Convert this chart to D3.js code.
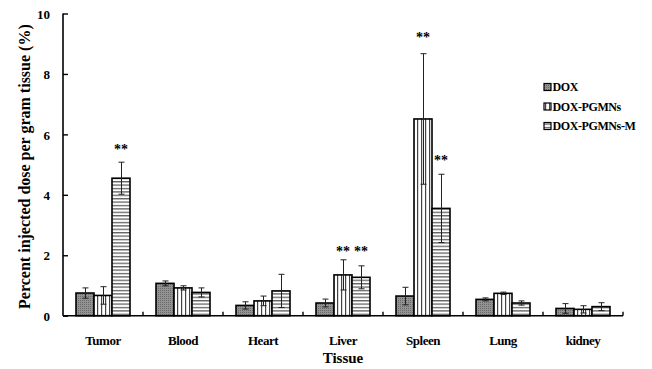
<!DOCTYPE html>
<html>
<head>
<meta charset="utf-8">
<script src="https://cdn.jsdelivr.net/npm/d3@7"></script>
<style>
  html, body { margin: 0; padding: 0; background: #fff; }
  svg { display: block; }
  text { font-family: "Liberation Serif", "Times New Roman", serif; font-weight: bold; fill: #000; }
</style>
</head>
<body>
<svg id="chart" width="652" height="369"></svg>
<script>
// Tissue distribution of DOX formulations (% injected dose per gram tissue)
const categories = ["Tumor", "Blood", "Heart", "Liver", "Spleen", "Lung", "kidney"];
const seriesNames = ["DOX", "DOX-PGMNs", "DOX-PGMNs-M"];

const doxMean       = [0.75, 1.07, 0.34, 0.42, 0.65, 0.54, 0.24];
const doxErr        = [0.17, 0.08, 0.12, 0.13, 0.29, 0.05, 0.16];
const pgmnsMean     = [0.67, 0.92, 0.49, 1.35, 6.51, 0.74, 0.21];
const pgmnsErr      = [0.29, 0.07, 0.16, 0.50, 2.16, 0.04, 0.12];
const pgmnsMMean    = [4.55, 0.77, 0.82, 1.27, 3.55, 0.42, 0.30];
const pgmnsMErr     = [0.53, 0.15, 0.55, 0.38, 1.13, 0.07, 0.13];

// "**" significance marks: category, series, height (in % ID/g units)
const sigCategory = ["Tumor", "Liver", "Liver", "Spleen", "Spleen"];
const sigSeries   = ["DOX-PGMNs-M", "DOX-PGMNs", "DOX-PGMNs-M", "DOX-PGMNs", "DOX-PGMNs-M"];
const sigLevel    = [5.62, 2.24, 2.24, 9.32, 5.25];

const yTicks = [0, 2, 4, 6, 8, 10];

const means = [doxMean, pgmnsMean, pgmnsMMean];
const errs = [doxErr, pgmnsErr, pgmnsMErr];

const rows = [];
categories.forEach((c, i) => {
  seriesNames.forEach((s, j) => {
    rows.push({ category: c, series: s, value: means[j][i], err: errs[j][i] });
  });
});

const svg = d3.select("#chart");
const defs = svg.append("defs");

// DOX: grey stippled fill
const pDox = defs.append("pattern").attr("id", "p-dox")
  .attr("patternUnits", "userSpaceOnUse").attr("width", 2).attr("height", 2);
pDox.append("rect").attr("width", 2).attr("height", 2).attr("fill", "#929292");
pDox.append("rect").attr("width", 1).attr("height", 1).attr("fill", "#6a6a6a");

// DOX-PGMNs: vertical hatching
const pV = defs.append("pattern").attr("id", "p-vert")
  .attr("patternUnits", "userSpaceOnUse").attr("width", 4).attr("height", 4);
pV.append("rect").attr("width", 4).attr("height", 4).attr("fill", "#fff");
pV.append("rect").attr("x", 1).attr("width", 1.2).attr("height", 4).attr("fill", "#444");

// DOX-PGMNs-M: horizontal hatching
const pH = defs.append("pattern").attr("id", "p-horz")
  .attr("patternUnits", "userSpaceOnUse").attr("width", 4).attr("height", 3.4);
pH.append("rect").attr("width", 4).attr("height", 3.4).attr("fill", "#fff");
pH.append("rect").attr("y", 1).attr("width", 4).attr("height", 1.1).attr("fill", "#444");

const fillOf = d3.scaleOrdinal().domain(seriesNames)
  .range(["url(#p-dox)", "url(#p-vert)", "url(#p-horz)"]);

const plotLeft = 63, plotRight = 623, plotTop = 13.5, plotBottom = 315.7;

const x0 = d3.scaleBand().domain(categories).range([plotLeft, plotRight])
  .paddingInner(0.325).paddingOuter(0.1625);
const x1 = d3.scaleBand().domain(seriesNames).range([0, x0.bandwidth()]);
const y = d3.scaleLinear().domain([0, 10]).range([plotBottom, plotTop]);

// Bars
svg.append("g").selectAll("rect").data(rows).join("rect")
  .attr("x", d => x0(d.category) + x1(d.series))
  .attr("y", d => y(d.value))
  .attr("width", x1.bandwidth())
  .attr("height", d => y(0) - y(d.value))
  .attr("fill", d => fillOf(d.series))
  .attr("stroke", "#000")
  .attr("stroke-width", 1.6);

// Error bars (mean ± SD)
const cap = 3;
const eb = svg.append("g").attr("stroke", "#222").attr("stroke-width", 1);
rows.forEach(d => {
  const cx = Math.round(x0(d.category) + x1(d.series) + x1.bandwidth() / 2) + 0.5;
  const yHi = y(d.value + d.err), yLo = y(Math.max(0, d.value - d.err));
  eb.append("line").attr("x1", cx).attr("x2", cx).attr("y1", yHi).attr("y2", yLo);
  eb.append("line").attr("x1", cx - cap).attr("x2", cx + cap).attr("y1", yHi).attr("y2", yHi);
  eb.append("line").attr("x1", cx - cap).attr("x2", cx + cap).attr("y1", yLo).attr("y2", yLo);
});

// Significance marks
svg.append("g").selectAll("text").data(sigCategory).join("text")
  .attr("x", (c, i) => x0(c) + x1(sigSeries[i]) + x1.bandwidth() / 2)
  .attr("y", (c, i) => y(sigLevel[i]))
  .attr("dy", "0.55em")
  .attr("text-anchor", "middle")
  .attr("font-size", 14)
  .text("**");

// Y axis with inward ticks
const yAxis = d3.axisLeft(y).tickValues(yTicks).tickSize(-5).tickPadding(13).tickFormat(d3.format("d"));
const gy = svg.append("g").attr("transform", `translate(${plotLeft},0)`).call(yAxis);
gy.select(".domain").attr("stroke", "#000").attr("stroke-width", 1.6).attr("d", `M0,${plotTop}V${plotBottom}`);
gy.selectAll(".tick line").attr("stroke", "#000").attr("stroke-width", 1.4);
gy.selectAll(".tick text").attr("font-size", 13).attr("font-family", null).attr("dy", "0.36em");

// X axis: baseline with small upward ticks between groups
const xBounds = d3.range(categories.length + 1).map(i => plotLeft + i * x0.step());
const gx = svg.append("g");
gx.append("line").attr("x1", plotLeft).attr("x2", plotRight).attr("y1", plotBottom).attr("y2", plotBottom)
  .attr("stroke", "#000").attr("stroke-width", 1.6);
gx.selectAll("line.tk").data(xBounds.slice(1)).join("line").attr("class", "tk")
  .attr("x1", d => d).attr("x2", d => d).attr("y1", plotBottom).attr("y2", plotBottom - 4)
  .attr("stroke", "#000").attr("stroke-width", 1.4);
gx.selectAll("text").data(categories).join("text")
  .attr("x", d => x0(d) + x0.bandwidth() / 2)
  .attr("y", 345)
  .attr("text-anchor", "middle")
  .attr("font-size", 13)
  .attr("letter-spacing", -0.5)
  .text(d => d);

// Axis titles
svg.append("text").attr("x", (plotLeft + plotRight) / 2).attr("y", 363)
  .attr("text-anchor", "middle").attr("font-size", 15).text("Tissue");
svg.append("text")
  .attr("transform", `translate(30,${(plotTop + plotBottom) / 2 + 2}) rotate(-90)`)
  .attr("text-anchor", "middle").attr("font-size", 16)
  .text("Percent injected dose per gram tissue (%)");

// Legend
const lg = svg.append("g").attr("transform", "translate(544,87)");
seriesNames.forEach((s, i) => {
  const row = lg.append("g").attr("transform", `translate(0,${i * 19.5})`);
  row.append("rect").attr("x", 0).attr("y", -3.5).attr("width", 7).attr("height", 7)
    .attr("fill", fillOf(s)).attr("stroke", "#000").attr("stroke-width", 1.2);
  row.append("text").attr("x", 8.5).attr("y", 0).attr("dy", "0.35em")
    .attr("font-size", 12).attr("letter-spacing", -0.4).text(s);
});
</script>
</body>
</html>
